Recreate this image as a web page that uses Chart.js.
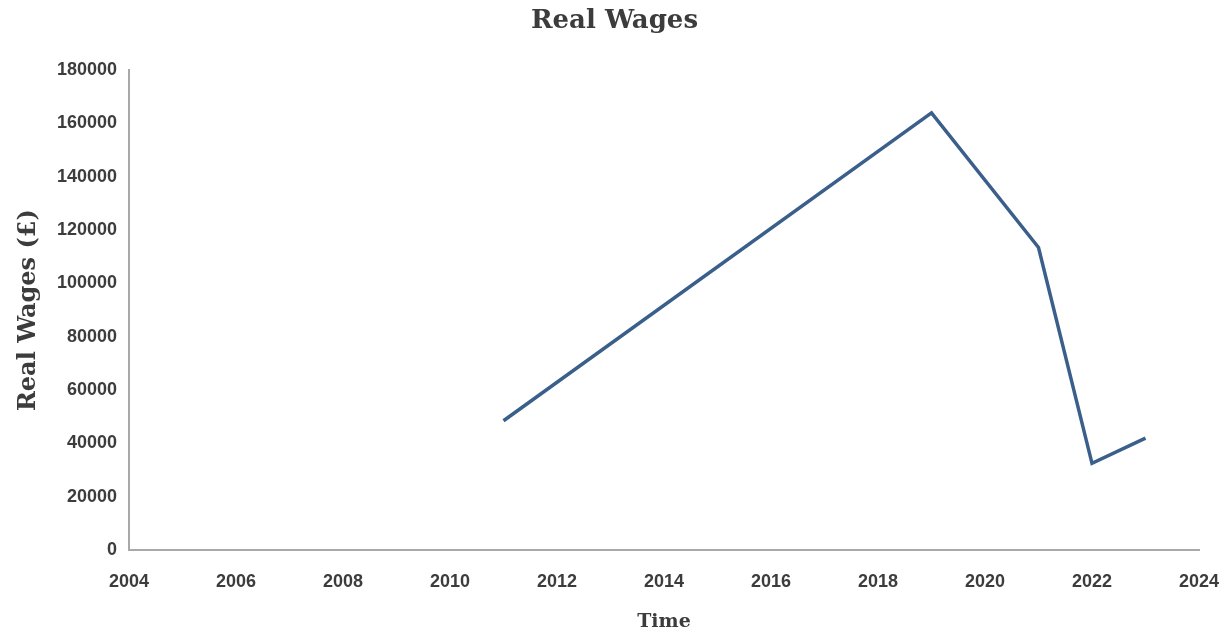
<!DOCTYPE html>
<html>
<head>
<meta charset="utf-8">
<title>Real Wages</title>
<script src="https://cdn.jsdelivr.net/npm/chart.js@4"></script>
<style>
  html, body { margin: 0; padding: 0; background: #fff; }
  #wrap { width: 1229px; height: 633px; }
</style>
</head>
<body>
<div id="wrap"><canvas id="wagesChart" width="1229" height="633"></canvas></div>
<script>
// yearly real wage figures (£)
const years = [2011, 2019, 2021, 2022, 2023];
const realWages = [48500, 164000, 113500, 32500, 42000];

const xTicks = [2004, 2006, 2008, 2010, 2012, 2014, 2016, 2018, 2020, 2022, 2024];
const yTicks = [0, 20000, 40000, 60000, 80000, 100000, 120000, 140000, 160000, 180000];

document.addEventListener("DOMContentLoaded", function () {
    const ctx = document.getElementById("wagesChart").getContext("2d");
    const serif = "'DejaVu Serif', Georgia, serif";
    const sans = "'Liberation Sans', Arial, sans-serif";
    const textColor = "#3c3c3c";

    const points = years.map((yr, i) => ({ x: yr, y: realWages[i] }));

    new Chart(ctx, {
        type: "line",
        data: {
            datasets: [{
                label: "Real Wages",
                data: points,
                borderColor: "#3b5f8b",
                borderWidth: 3.5,
                pointRadius: 0,
                tension: 0,
                fill: false,
            }],
        },
        options: {
            responsive: false,
            animation: false,
            layout: { padding: { left: 14, right: 14, top: 0, bottom: 0 } },
            plugins: {
                legend: { display: false },
                tooltip: { enabled: false },
                title: {
                    display: true,
                    text: "Real Wages",
                    color: textColor,
                    font: { family: serif, size: 26, weight: "bold" },
                    padding: { top: 6, bottom: 33 },
                },
            },
            scales: {
                x: {
                    type: "linear",
                    min: xTicks[0],
                    max: xTicks[xTicks.length - 1],
                    afterBuildTicks: (scale) => { scale.ticks = xTicks.map(v => ({ value: v })); },
                    afterFit: (scale) => {
                        // fixed axis band, with room on the right for the 2024 label
                        scale.height = 83;
                        scale.paddingLeft = 0;
                        scale.paddingRight = 30;
                    },
                    grid: { display: false, drawTicks: false },
                    border: { display: true, color: "#a9a9a9", width: 2 },
                    ticks: {
                        color: textColor,
                        font: { family: sans, size: 18, weight: "bold" },
                        padding: 21,
                        maxRotation: 0,
                        callback: (v) => String(v),
                    },
                    title: {
                        display: true,
                        text: "Time",
                        color: textColor,
                        font: { family: serif, size: 19, weight: "bold" },
                        padding: { top: 1, bottom: 0 },
                    },
                },
                y: {
                    min: yTicks[0],
                    max: yTicks[yTicks.length - 1],
                    afterBuildTicks: (scale) => { scale.ticks = yTicks.map(v => ({ value: v })); },
                    afterFit: (scale) => { scale.width = 115; },
                    grid: { display: false, drawTicks: false },
                    border: { display: true, color: "#a9a9a9", width: 2 },
                    ticks: {
                        color: textColor,
                        font: { family: sans, size: 18, weight: "bold" },
                        padding: 12,
                        callback: (v) => String(v),
                    },
                    title: {
                        display: true,
                        text: "Real Wages (£)",
                        color: textColor,
                        font: { family: serif, size: 24, weight: "bold" },
                        padding: { top: 0, bottom: 0 },
                    },
                },
            },
        },
    });
});
</script>
</body>
</html>
